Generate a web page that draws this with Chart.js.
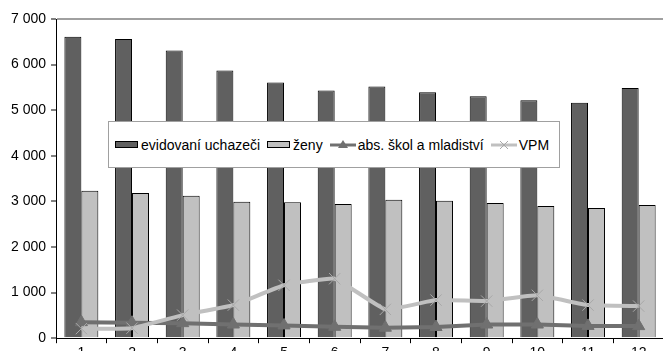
<!DOCTYPE html>
<html>
<head>
<meta charset="utf-8">
<script src="https://cdn.jsdelivr.net/npm/chart.js@4"></script>
<style>
  html, body { margin:0; padding:0; background:#fff; overflow:hidden; width:663px; height:351px; }
  #wrap { position:absolute; left:0; top:0; width:673px; height:364px; }
  #legend { position:absolute; left:108px; top:121px; width:444px; height:45px; border:1px solid #a0a0a0; background:#fff;
    font-family:"Liberation Sans", Arial, sans-serif; font-size:14px; color:#000; display:flex; align-items:center; padding-left:6px; box-sizing:content-box; white-space:nowrap; }
  .item { display:flex; align-items:center; margin-right:7px; }
  .item svg { margin-right:2px; }
</style>
</head>
<body>
<div id="wrap"><canvas id="c" width="673" height="364"></canvas></div>
<div id="legend"></div>
<script>
const categories = ["1","2","3","4","5","6","7","8","9","10","11","12"];
const evidovani = [6610, 6560, 6310, 5870, 5606, 5430, 5518, 5393, 5305, 5217, 5166, 5488];
const zeny = [3236, 3185, 3126, 2994, 2979, 2943, 3038, 3016, 2965, 2899, 2855, 2921];
const absolventi = [350, 340, 330, 300, 280, 250, 230, 245, 300, 300, 270, 265];
const vpm = [210, 220, 506, 726, 1160, 1305, 632, 836, 814, 940, 726, 704];
const yTicks = [0, 1000, 2000, 3000, 4000, 5000, 6000, 7000];

const fmt = v => String(v).replace(/\B(?=(\d{3})+(?!\d))/g, ' ');
const FONT = "'Liberation Sans', Arial, sans-serif";

const chart = new Chart(document.getElementById('c'), {
  type: 'bar',
  data: {
    labels: categories,
    datasets: [
      { type:'bar', label:'evidovaní uchazeči', data: evidovani, backgroundColor:'#606060', borderColor:'#000', borderWidth:1, order:2,
        categoryPercentage:0.67, barPercentage:1.0 },
      { type:'bar', label:'ženy', data: zeny, backgroundColor:'#c0c0c0', borderColor:'#000', borderWidth:1, order:2,
        categoryPercentage:0.67, barPercentage:1.0 },
      { type:'line', label:'abs. škol a mladiství', data: absolventi, borderColor:'#707070', backgroundColor:'#707070', borderWidth:4,
        pointStyle:'triangle', pointRadius:7, pointBorderWidth:1, pointBorderColor:'#707070', order:1, tension:0 },
      { type:'line', label:'VPM', data: vpm, borderColor:'#c0c0c0', backgroundColor:'#c0c0c0', borderWidth:4,
        pointStyle:'crossRot', pointRadius:8, pointBorderWidth:1, pointBorderColor:'#a8a8a8', order:0, tension:0.1 }
    ]
  },
  options: {
    responsive:false, animation:false, devicePixelRatio:1,
    layout:{ padding:{ top:19, left:6, right:1, bottom:0 } },
    plugins:{ legend:{ display:false }, tooltip:{ enabled:false } },
    scales:{
      x:{
        offset:true,
        grid:{ offset:true, display:true, color:'rgba(0,0,0,0)', tickColor:'#000', tickLength:5, drawOnChartArea:false },
        border:{ display:true, color:'#000', width:1 },
        ticks:{ font:{ family:FONT, size:14 }, color:'#000', padding:2, maxRotation:0 }
      },
      y:{
        min:0, max:7000,
        afterBuildTicks: s => { s.ticks = yTicks.map(v => ({ value:v })); },
        grid:{ display:true, color: ctx => (ctx.tick && ctx.tick.value === 7000) ? '#a0a0a0' : 'rgba(0,0,0,0)', lineWidth:2, tickColor:'#808080', tickLength:5 },
        border:{ display:true, color:'#000', width:1 },
        ticks:{ font:{ family:FONT, size:14 }, color:'#000', padding:5, callback: v => fmt(v) }
      }
    }
  }
});

// HTML legend built from datasets
const lg = document.getElementById('legend');
chart.data.datasets.forEach(ds => {
  const it = document.createElement('div');
  it.className = 'item';
  let svg;
  if (ds.type === 'bar') {
    svg = `<svg width="24" height="10"><rect x="0.5" y="1.5" width="22" height="6" fill="${ds.backgroundColor}" stroke="#000" stroke-width="1"/></svg>`;
  } else if (ds.pointStyle === 'triangle') {
    svg = `<svg width="26" height="12"><line x1="0" y1="6" x2="26" y2="6" stroke="${ds.borderColor}" stroke-width="3"/><polygon points="13,1 18,9 8,9" fill="${ds.borderColor}"/></svg>`;
  } else {
    svg = `<svg width="26" height="12"><line x1="0" y1="6" x2="26" y2="6" stroke="${ds.borderColor}" stroke-width="3"/><line x1="9" y1="2" x2="17" y2="10" stroke="#a8a8a8" stroke-width="1"/><line x1="17" y1="2" x2="9" y2="10" stroke="#a8a8a8" stroke-width="1"/></svg>`;
  }
  it.innerHTML = svg + '<span>' + ds.label + '</span>';
  lg.appendChild(it);
});
</script>
</body>
</html>
